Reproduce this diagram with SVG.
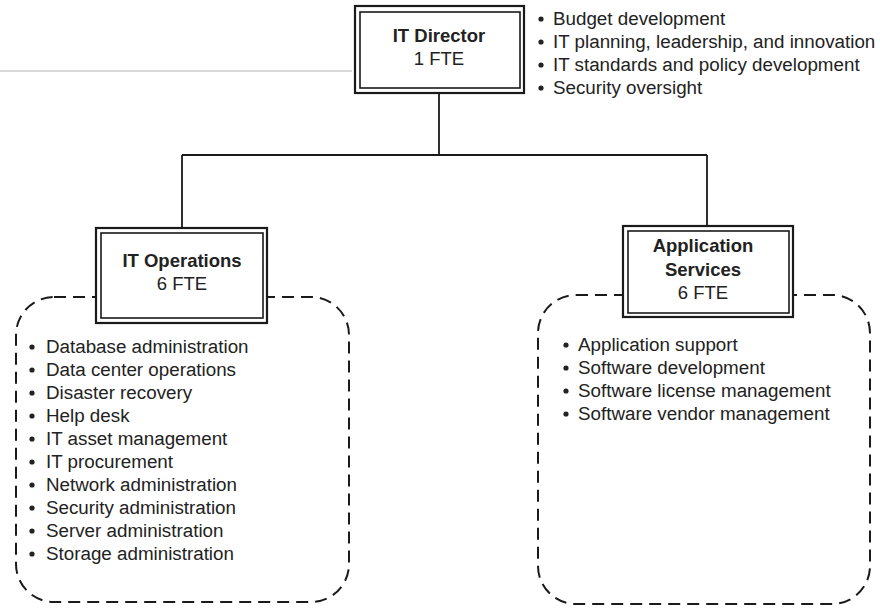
<svg xmlns="http://www.w3.org/2000/svg" width="880" height="610" viewBox="0 0 880 610">
  <style>
    .bg { fill: #ffffff; }
    .outer { fill: #ffffff; stroke: #1a1a1a; stroke-width: 2.2; }
    .inner { fill: none; stroke: #1a1a1a; stroke-width: 1.6; }
    .dash { fill: none; stroke: #1a1a1a; stroke-width: 2; stroke-dasharray: 12 7; }
    .conn { fill: none; stroke: #1a1a1a; stroke-width: 1.8; }
    .title { font-family: "Liberation Sans", Arial, sans-serif; font-size: 18.5px; font-weight: bold; fill: #222; text-anchor: middle; }
    .sub { font-family: "Liberation Sans", Arial, sans-serif; font-size: 18.5px; fill: #222; text-anchor: middle; }
    .item { font-family: "Liberation Sans", Arial, sans-serif; font-size: 18.8px; fill: #222; }
    .dot { fill: #222; }
  </style>
  <rect class="bg" x="0" y="0" width="880" height="610"/>
  <line x1="0" y1="71" x2="352" y2="71" stroke="#cccccc" stroke-width="1.6"/>

  <g id="connectors">
    <path class="conn" d="M439 93 V155 M182 155 H707 M182 155 V228 M707 155 V226"/>
  </g>

  <g id="it-operations-duties">
    <rect class="dash" x="16" y="297" width="333" height="305" rx="38" ry="38"/>
    <g class="dot">
      <circle cx="32" cy="347" r="2.6"/><circle cx="32" cy="370" r="2.6"/><circle cx="32" cy="393" r="2.6"/>
      <circle cx="32" cy="416" r="2.6"/><circle cx="32" cy="439" r="2.6"/><circle cx="32" cy="462" r="2.6"/>
      <circle cx="32" cy="485" r="2.6"/><circle cx="32" cy="508" r="2.6"/><circle cx="32" cy="531" r="2.6"/>
      <circle cx="32" cy="554" r="2.6"/>
    </g>
    <text class="item" x="46" y="353">Database administration</text>
    <text class="item" x="46" y="376">Data center operations</text>
    <text class="item" x="46" y="399">Disaster recovery</text>
    <text class="item" x="46" y="422">Help desk</text>
    <text class="item" x="46" y="445">IT asset management</text>
    <text class="item" x="46" y="468">IT procurement</text>
    <text class="item" x="46" y="491">Network administration</text>
    <text class="item" x="46" y="514">Security administration</text>
    <text class="item" x="46" y="537">Server administration</text>
    <text class="item" x="46" y="560">Storage administration</text>
  </g>

  <g id="application-services-duties">
    <rect class="dash" x="538" y="295" width="332" height="309" rx="38" ry="38"/>
    <g class="dot">
      <circle cx="566" cy="345" r="2.6"/><circle cx="566" cy="368" r="2.6"/>
      <circle cx="566" cy="391" r="2.6"/><circle cx="566" cy="414" r="2.6"/>
    </g>
    <text class="item" x="578" y="351">Application support</text>
    <text class="item" x="578" y="374">Software development</text>
    <text class="item" x="578" y="397">Software license management</text>
    <text class="item" x="578" y="420">Software vendor management</text>
  </g>

  <g id="it-director">
    <rect class="outer" x="355" y="6" width="169" height="87"/>
    <rect class="inner" x="360" y="12" width="160" height="76"/>
    <text class="title" x="439" y="42">IT Director</text>
    <text class="sub" x="439" y="65">1 FTE</text>
  </g>

  <g id="director-duties">
    <g class="dot">
      <circle cx="541" cy="19" r="2.6"/><circle cx="541" cy="42" r="2.6"/>
      <circle cx="541" cy="65" r="2.6"/><circle cx="541" cy="88" r="2.6"/>
    </g>
    <text class="item" x="553" y="25">Budget development</text>
    <text class="item" x="553" y="48">IT planning, leadership, and innovation</text>
    <text class="item" x="553" y="71">IT standards and policy development</text>
    <text class="item" x="553" y="94">Security oversight</text>
  </g>

  <g id="it-operations">
    <rect class="outer" x="96" y="228" width="171" height="95"/>
    <rect class="inner" x="101" y="233" width="162" height="85"/>
    <text class="title" x="182" y="267">IT Operations</text>
    <text class="sub" x="182" y="290">6 FTE</text>
  </g>

  <g id="application-services">
    <rect class="outer" x="623" y="226" width="170" height="91"/>
    <rect class="inner" x="628" y="231" width="161" height="82"/>
    <text class="title" x="703" y="252">Application</text>
    <text class="title" x="703" y="276">Services</text>
    <text class="sub" x="703" y="299">6 FTE</text>
  </g>
</svg>
